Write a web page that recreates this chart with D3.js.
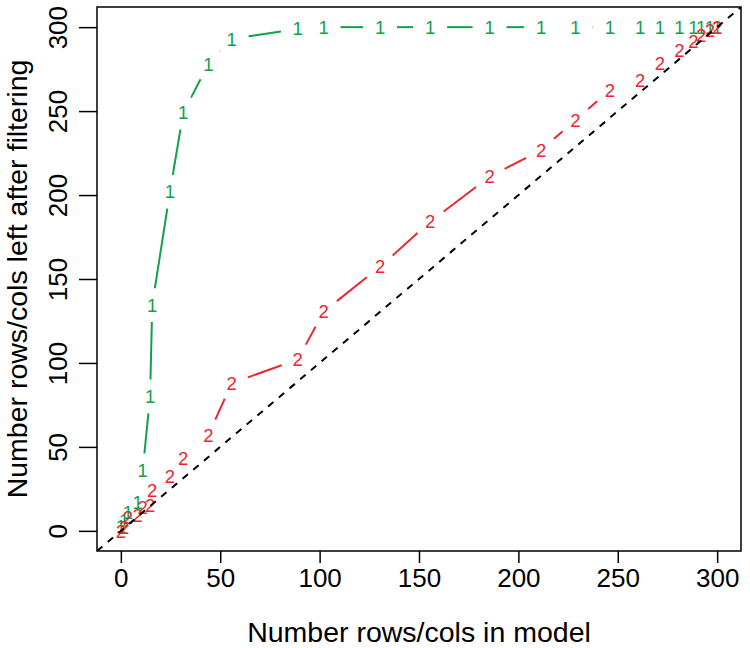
<!DOCTYPE html>
<html>
<head>
<meta charset="utf-8">
<script src="https://cdn.jsdelivr.net/npm/d3@7"></script>
<style>
  body { margin: 0; background: #fff; }
  svg text { font-family: "Liberation Sans", Arial, Helvetica, sans-serif; }
</style>
</head>
<body>
<div class="svg"></div>
<script>
'use strict';

// shared x values (rows/cols in model)
var modelSize = [0, 1.6, 3.6, 8.5, 11, 14.7, 15.8, 24.7, 31.4, 44, 55.8, 89, 102, 130.4, 155.6,
    185.5, 211.5, 228.7, 246, 261.3, 271.2, 281, 288, 292, 296.4, 300];
// series 1 (green "1")
var leftAfter1 = [2.5, 6, 11, 17, 36, 80, 134.5, 202, 249, 278, 293, 299, 300, 300, 300,
    300, 300, 300, 300, 300, 300, 300, 300, 300, 300, 300];
// series 2 (red "2")
var leftAfter2 = [0, 1.8, 8, 9.5, 14, 15, 24.4, 32.3, 43.3, 57, 88, 102, 130.5, 157.3, 184.1,
    210.9, 226.8, 244.6, 262.5, 268.5, 278.4, 286.3, 291.3, 295.2, 298.2, 300];
var xTicks = [0, 50, 100, 150, 200, 250, 300];
var yTicks = [0, 50, 100, 150, 200, 250, 300];

var width = 750, height = 648;
var box = { left: 97, right: 741, top: 7, bottom: 551 };

var x = d3.scaleLinear().domain([-12, 312]).range([box.left, box.right]);
var y = d3.scaleLinear().domain([-12, 312]).range([box.bottom, box.top]);

var svg = d3.select('div.svg').append('svg')
    .attr('width', width)
    .attr('height', height);

svg.append('defs').append('clipPath').attr('id', 'plotclip')
    .append('rect')
    .attr('x', box.left).attr('y', box.top)
    .attr('width', box.right - box.left).attr('height', box.bottom - box.top);

// axes
var xAxis = d3.axisBottom(x).tickValues(xTicks).tickSize(12).tickPadding(6);
var yAxis = d3.axisLeft(y).tickValues(yTicks).tickSize(18).tickPadding(0);

var xAx = svg.append('g')
    .attr('transform', 'translate(0,' + box.bottom + ')')
    .call(xAxis);
xAx.select('.domain').remove();
xAx.selectAll('line').attr('stroke', '#000').attr('stroke-width', 1.5);
xAx.selectAll('text')
    .attr('font-size', 26).attr('fill', '#000')
    .attr('y', 36).attr('dy', 0);

var yAx = svg.append('g')
    .attr('transform', 'translate(' + box.left + ',0)')
    .call(yAxis);
yAx.select('.domain').remove();
yAx.selectAll('line').attr('stroke', '#000').attr('stroke-width', 1.5);
yAx.selectAll('text')
    .attr('font-size', 26).attr('fill', '#000')
    .attr('x', 0).attr('dy', 0)
    .attr('text-anchor', 'middle')
    .attr('transform', 'translate(-30,0) rotate(-90)');

// box
svg.append('rect')
    .attr('x', box.left).attr('y', box.top)
    .attr('width', box.right - box.left).attr('height', box.bottom - box.top)
    .attr('fill', 'none').attr('stroke', '#000').attr('stroke-width', 1.5);

// axis titles
svg.append('text')
    .attr('x', (box.left + box.right) / 2).attr('y', 642)
    .attr('text-anchor', 'middle').attr('font-size', 28.5)
    .text('Number rows/cols in model');
svg.append('text')
    .attr('transform', 'translate(27,' + (box.top + box.bottom) / 2 + ') rotate(-90)')
    .attr('text-anchor', 'middle').attr('font-size', 28.5)
    .text('Number rows/cols left after filtering');

// type="b" style: segments with a gap around each character
var gap = 17;
function drawSeries(values, colour, label) {
    var pts = modelSize.map(function (d, i) {
        return [x(d), y(values[i])];
    });
    var segs = [];
    for (var i = 0; i < pts.length - 1; i++) {
        var dx = pts[i + 1][0] - pts[i][0];
        var dy = pts[i + 1][1] - pts[i][1];
        var len = Math.sqrt(dx * dx + dy * dy);
        if (len > 2 * gap) {
            segs.push([
                [pts[i][0] + dx / len * gap, pts[i][1] + dy / len * gap],
                [pts[i + 1][0] - dx / len * gap, pts[i + 1][1] - dy / len * gap]
            ]);
        }
    }
    var g = svg.append('g').attr('clip-path', 'url(#plotclip)');
    g.selectAll('line.seg')
        .data(segs)
        .enter().append('line')
        .attr('class', 'seg')
        .attr('x1', function (d) { return d[0][0]; })
        .attr('y1', function (d) { return d[0][1]; })
        .attr('x2', function (d) { return d[1][0]; })
        .attr('y2', function (d) { return d[1][1]; })
        .attr('stroke', colour)
        .attr('stroke-width', 2);
    g.selectAll('text.pt')
        .data(pts)
        .enter().append('text')
        .attr('class', 'pt')
        .attr('x', function (d) { return d[0]; })
        .attr('y', function (d) { return d[1]; })
        .attr('dy', '0.36em')
        .attr('text-anchor', 'middle')
        .attr('font-size', 18.5)
        .attr('fill', colour)
        .text(label);
}

drawSeries(leftAfter1, '#10a24a', '1');
drawSeries(leftAfter2, '#ec2530', '2');

// identity line
svg.append('line')
    .attr('clip-path', 'url(#plotclip)')
    .attr('x1', x(-12)).attr('y1', y(-12))
    .attr('x2', x(312)).attr('y2', y(312))
    .attr('stroke', '#000')
    .attr('stroke-width', 2)
    .attr('stroke-dasharray', '7,7');
</script>
</body>
</html>
